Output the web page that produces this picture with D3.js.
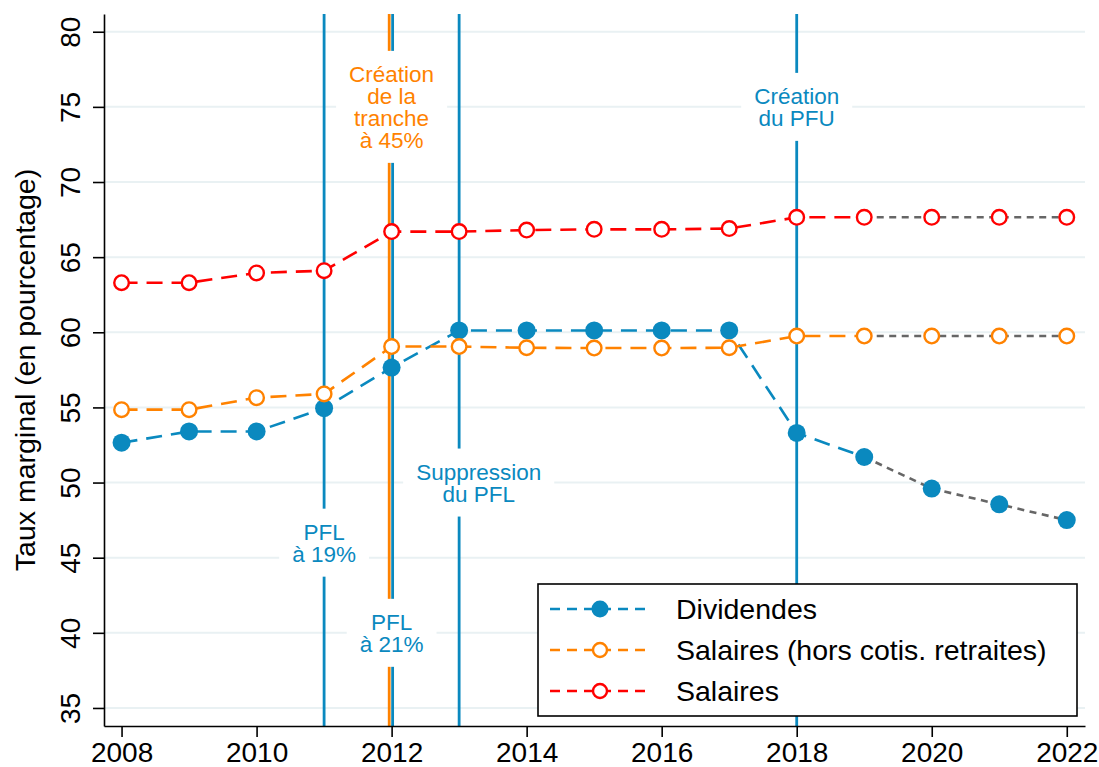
<!DOCTYPE html>
<html>
<head>
<meta charset="utf-8">
<script src="https://cdn.jsdelivr.net/npm/d3@7"></script>
<style>
  html, body { margin: 0; padding: 0; background: #fff; }
  svg { display: block; font-family: "Liberation Sans", Arial, Helvetica, sans-serif; }
</style>
</head>
<body>
<svg id="chart" width="1099" height="767"></svg>
<script>
// ---------- data ----------
const years = [2008, 2009, 2010, 2011, 2012, 2013, 2014, 2015, 2016, 2017, 2018, 2019, 2020, 2021, 2022];
const dividendes   = [52.65, 53.4, 53.4, 54.95, 57.65, 60.12, 60.12, 60.12, 60.12, 60.12, 53.3, 51.7, 49.6, 48.55, 47.5];
const salairesHors = [54.85, 54.85, 55.65, 55.9, 59.05, 59.05, 58.97, 58.95, 58.95, 58.97, 59.75, 59.75, 59.75, 59.75, 59.75];
const salaires     = [63.3, 63.3, 63.95, 64.1, 66.7, 66.7, 66.8, 66.85, 66.85, 66.9, 67.65, 67.65, 67.65, 67.65, 67.65];
const lastObservedYear = 2019;

const seriesNames = ["Dividendes", "Salaires (hors cotis. retraites)", "Salaires"];
const yTicks = [35, 40, 45, 50, 55, 60, 65, 70, 75, 80];
const xTicks = [2008, 2010, 2012, 2014, 2016, 2018, 2020, 2022];
const yTitle = "Taux marginal (en pourcentage)";

const eventYears  = [2011, 2012, 2012, 2013, 2018];
const eventColors = ["blue", "orange", "blue", "blue", "blue"];

const noteYears  = [2012, 2018, 2013.29, 2011, 2012];
const noteValues = [75, 75, 50, 46, 40];
const noteLines  = [["Création", "de la", "tranche", "à 45%"], ["Création", "du PFU"], ["Suppression", "du PFL"], ["PFL", "à 19%"], ["PFL", "à 21%"]];
const noteColors = ["orange", "blue", "blue", "blue", "blue"];

// ---------- styles ----------
const COL = { blue: "#0a89bf", orange: "#ff8200", red: "#ff0000", gray: "#666666", grid: "#e9f1f3" };

const svg = d3.select("#chart");
svg.append("rect").attr("width", 1099).attr("height", 767).attr("fill", "#fff");

const x = d3.scaleLinear().domain([2007.74, 2022.27]).range([104, 1085]);
const y = d3.scaleLinear().domain([33.8, 81.18]).range([726, 14]);

// gridlines
svg.append("g").selectAll("line").data(yTicks).join("line")
  .attr("x1", x.range()[0]).attr("x2", x.range()[1])
  .attr("y1", d => y(d)).attr("y2", d => y(d))
  .attr("stroke", COL.grid).attr("stroke-width", 2);

// event vertical lines
const evG = svg.append("g");
eventYears.forEach((yr, i) => {
  const dup = eventYears.filter(v => v === yr).length > 1;
  const idx = eventYears.slice(0, i).filter(v => v === yr).length;
  const off = dup ? (idx === 0 ? -2.4 : 1.0) : 0;
  evG.append("line")
    .attr("x1", x(yr) + off).attr("x2", x(yr) + off)
    .attr("y1", y.range()[1]).attr("y2", y.range()[0])
    .attr("stroke", COL[eventColors[i]]).attr("stroke-width", 2.8);
});

// annotation boxes + text (one text element per note, lines as tspans)
const FS = 22.5, LH = 22, CAP = 16;
noteYears.forEach((yr, i) => {
  const g = svg.append("g");
  const lines = noteLines[i];
  const n = lines.length;
  const cx = x(yr), cy = y(noteValues[i]);
  const rect = g.append("rect").attr("fill", "#fff");
  const firstBase = cy - (CAP + (n - 1) * LH) / 2 + CAP;
  const te = g.append("text")
    .attr("text-anchor", "middle")
    .attr("font-size", FS)
    .attr("fill", COL[noteColors[i]]);
  let maxW = 0;
  lines.forEach((t, j) => {
    const ts = te.append("tspan").attr("x", cx).attr("y", firstBase + j * LH).text(t);
    maxW = Math.max(maxW, ts.node().getComputedTextLength());
  });
  const h = n * LH + 24;
  const w = maxW + 26;
  rect.attr("x", cx - w / 2).attr("y", cy - h / 2).attr("width", w).attr("height", h);
});

// axes
const axL = svg.append("g").attr("transform", `translate(${x.range()[0]},0)`)
  .call(d3.axisLeft(y).tickValues(yTicks).tickSize(11).tickSizeOuter(0));
axL.select(".domain").attr("stroke", "#000").attr("stroke-width", 1.6);
axL.selectAll(".tick line").attr("stroke", "#000").attr("stroke-width", 1.6);
axL.selectAll(".tick text")
  .attr("transform", "rotate(-90)")
  .attr("x", 0).attr("y", -24).attr("dy", 0)
  .attr("text-anchor", "middle")
  .attr("font-size", 28).attr("font-family", null).attr("fill", "#000");

const axB = svg.append("g").attr("transform", `translate(0,${y.range()[0]})`)
  .call(d3.axisBottom(x).tickValues(xTicks).tickFormat(d3.format("d")).tickSize(11).tickSizeOuter(0));
axB.select(".domain").attr("stroke", "#000").attr("stroke-width", 1.6);
axB.selectAll(".tick line").attr("stroke", "#000").attr("stroke-width", 1.6);
axB.selectAll(".tick text")
  .attr("y", 36).attr("dy", 0)
  .attr("font-size", 28).attr("font-family", null).attr("fill", "#000");

// y title
svg.append("text")
  .attr("transform", `translate(35,${(y.range()[0] + y.range()[1]) / 2}) rotate(-90)`)
  .attr("text-anchor", "middle")
  .attr("font-size", 28.5)
  .text(yTitle);

// data series
const seriesVals = [dividendes, salairesHors, salaires];
const seriesCols = [COL.blue, COL.orange, COL.red];
const seriesFilled = [true, false, false];
const line = d3.line().x(d => x(d[0])).y(d => y(d[1]));

seriesVals.forEach((vals, s) => {
  const pts = years.map((yr, i) => [yr, vals[i]]);
  const obs = pts.filter(p => p[0] <= lastObservedYear);
  const proj = pts.filter(p => p[0] >= lastObservedYear);
  svg.append("path").attr("d", line(proj)).attr("fill", "none")
    .attr("stroke", COL.gray).attr("stroke-width", 2.6).attr("stroke-dasharray", "7,5.5");
  svg.append("path").attr("d", line(obs)).attr("fill", "none")
    .attr("stroke", seriesCols[s]).attr("stroke-width", 2.6).attr("stroke-dasharray", "16,9");
});
seriesVals.forEach((vals, s) => {
  svg.append("g").selectAll("circle").data(years.map((yr, i) => [yr, vals[i]])).join("circle")
    .attr("cx", d => x(d[0])).attr("cy", d => y(d[1]))
    .attr("r", seriesFilled[s] ? 9 : 7.3)
    .attr("fill", seriesFilled[s] ? seriesCols[s] : "#fff")
    .attr("stroke", seriesFilled[s] ? "none" : seriesCols[s])
    .attr("stroke-width", 2.4);
});

// legend
const lg = svg.append("g");
lg.append("rect").attr("x", 538).attr("y", 584).attr("width", 539).attr("height", 132)
  .attr("fill", "#fff").attr("stroke", "#000").attr("stroke-width", 1.6);
seriesNames.forEach((name, s) => {
  const ry = 609 + s * 41;
  lg.append("line").attr("x1", 550).attr("x2", 650).attr("y1", ry).attr("y2", ry)
    .attr("stroke", seriesCols[s]).attr("stroke-width", 2.4).attr("stroke-dasharray", "10,7");
  lg.append("circle").attr("cx", 600).attr("cy", ry)
    .attr("r", seriesFilled[s] ? 8.5 : 7)
    .attr("fill", seriesFilled[s] ? seriesCols[s] : "#fff")
    .attr("stroke", seriesFilled[s] ? "none" : seriesCols[s])
    .attr("stroke-width", 2.4);
  lg.append("text").attr("x", 676).attr("y", ry).attr("dy", "0.35em")
    .attr("font-size", 28.5).text(name);
});
</script>
</body>
</html>
